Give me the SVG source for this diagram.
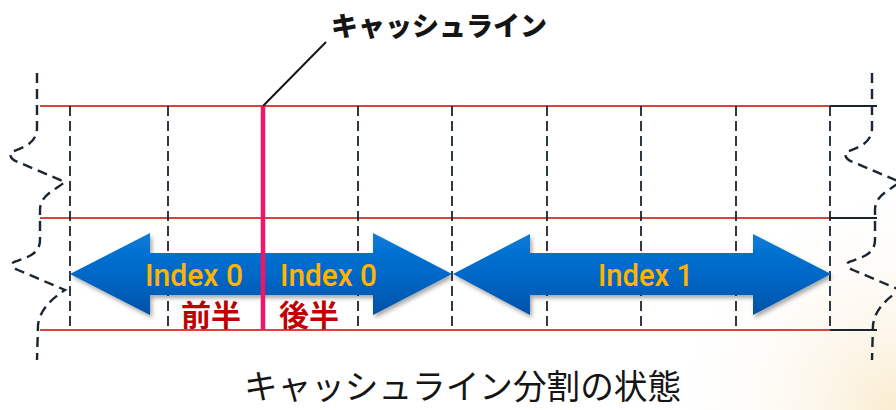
<svg xmlns="http://www.w3.org/2000/svg" width="896" height="410" viewBox="0 0 896 410">
  <defs>
    <style>
      .red { stroke: #d40000; stroke-width: 1.6; fill: none; }
      .blk { stroke: #1a2530; stroke-width: 2.2; fill: none; }
      .dash { stroke: #1a2530; stroke-width: 1.8; stroke-dasharray: 10 5; fill: none; }
      .wave { stroke: #1a2530; stroke-width: 2.4; stroke-dasharray: 10 6; fill: none; }
      .arrow { fill: url(#blueGrad); filter: url(#shadow); }
      .idx { font-family: Roboto, "Liberation Sans", sans-serif; font-weight: 500; font-size: 32px; fill: #ffb400; }
      .half { font-family: "Noto Sans CJK JP", sans-serif; font-weight: bold; font-size: 30px; fill: #c00000; }
      .title { font-family: "Noto Sans CJK JP", sans-serif; font-weight: 900; font-size: 27px; fill: #151515; }
      .caption { font-family: "Noto Sans CJK JP", sans-serif; font-size: 34px; fill: #151515; }
    </style>
    <linearGradient id="blueGrad" x1="0" y1="0" x2="0" y2="1">
      <stop offset="0" stop-color="#0a7ad8"/>
      <stop offset="0.5" stop-color="#0068c8"/>
      <stop offset="1" stop-color="#0052a6"/>
    </linearGradient>
    <radialGradient id="glow" cx="896" cy="410" r="230" gradientUnits="userSpaceOnUse">
      <stop offset="0" stop-color="#f5dba8" stop-opacity="0.55"/>
      <stop offset="1" stop-color="#ffffff" stop-opacity="0"/>
    </radialGradient>
    <filter id="shadow" x="-10%" y="-20%" width="120%" height="150%">
      <feDropShadow dx="2" dy="3" stdDeviation="2" flood-color="#000" flood-opacity="0.35"/>
    </filter>
  </defs>

  <rect width="896" height="410" fill="#ffffff"/>
  <rect width="896" height="410" fill="url(#glow)"/>

  <g id="grid">
    <line class="red" x1="40" y1="106" x2="830" y2="106"/>
    <line class="red" x1="40" y1="218" x2="830" y2="218"/>
    <line class="red" x1="40" y1="330" x2="830" y2="330"/>
    <line class="blk" x1="830" y1="106" x2="877" y2="106"/>
    <line class="blk" x1="830" y1="218" x2="877" y2="218"/>
    <line class="blk" x1="830" y1="330" x2="877" y2="330"/>
    <line class="dash" x1="70" y1="106" x2="70" y2="330"/>
    <line class="dash" x1="168" y1="106" x2="168" y2="330"/>
    <line class="dash" x1="358" y1="106" x2="358" y2="330"/>
    <line class="dash" x1="452" y1="106" x2="452" y2="330"/>
    <line class="dash" x1="547" y1="106" x2="547" y2="330"/>
    <line class="dash" x1="641" y1="106" x2="641" y2="330"/>
    <line class="dash" x1="736" y1="106" x2="736" y2="330"/>
    <line class="dash" x1="830" y1="106" x2="830" y2="330"/>
  </g>

  <g id="breaks">
    <path class="wave" d="M37,73 V128 C37,145 20,148 12,152 C8,155 12,160 18,162 L65,182 C55,190 40,195 40,210 V240 C40,255 25,258 14,262 C10,264 13,268 18,270 L65,290 C50,300 40,310 38,325 L37,360"/>
    <path class="wave" transform="translate(835,0)" d="M37,73 V128 C37,145 20,148 12,152 C8,155 12,160 18,162 L65,182 C55,190 40,195 40,210 V240 C40,255 25,258 14,262 C10,264 13,268 18,270 L65,290 C50,300 40,310 38,325 L37,360"/>
  </g>

  <g id="arrow-index0">
    <path class="arrow" d="M70,274 L150,233 V253 H373 V233 L452,274 L373,315 V295 H150 V315 Z"/>
    <text class="idx" x="145" y="286" textLength="98" lengthAdjust="spacingAndGlyphs">Index 0</text>
    <text class="idx" x="280" y="286" textLength="97" lengthAdjust="spacingAndGlyphs">Index 0</text>
  </g>

  <g id="arrow-index1">
    <path class="arrow" d="M453,274 L530,234 V253 H753 V234 L831,274 L753,315 V295 H530 V315 Z"/>
    <text class="idx" x="598" y="286" textLength="95" lengthAdjust="spacingAndGlyphs">Index 1</text>
  </g>

  <g id="cache-line">
    <line x1="263" y1="106" x2="263" y2="330" stroke="#f0146c" stroke-width="4.5"/>
  </g>

  <g id="labels">
    <text class="half" x="181" y="326">前半</text>
    <text class="half" x="279" y="326">後半</text>
  </g>

  <g id="connectors">
    <line x1="263" y1="106" x2="326" y2="42" stroke="#151515" stroke-width="2"/>
  </g>

  <g id="title">
    <text class="title" x="331" y="36">キャッシュライン</text>
  </g>

  <g id="caption">
    <text class="caption" x="244" y="399" textLength="437" lengthAdjust="spacingAndGlyphs">キャッシュライン分割の状態</text>
  </g>
</svg>
